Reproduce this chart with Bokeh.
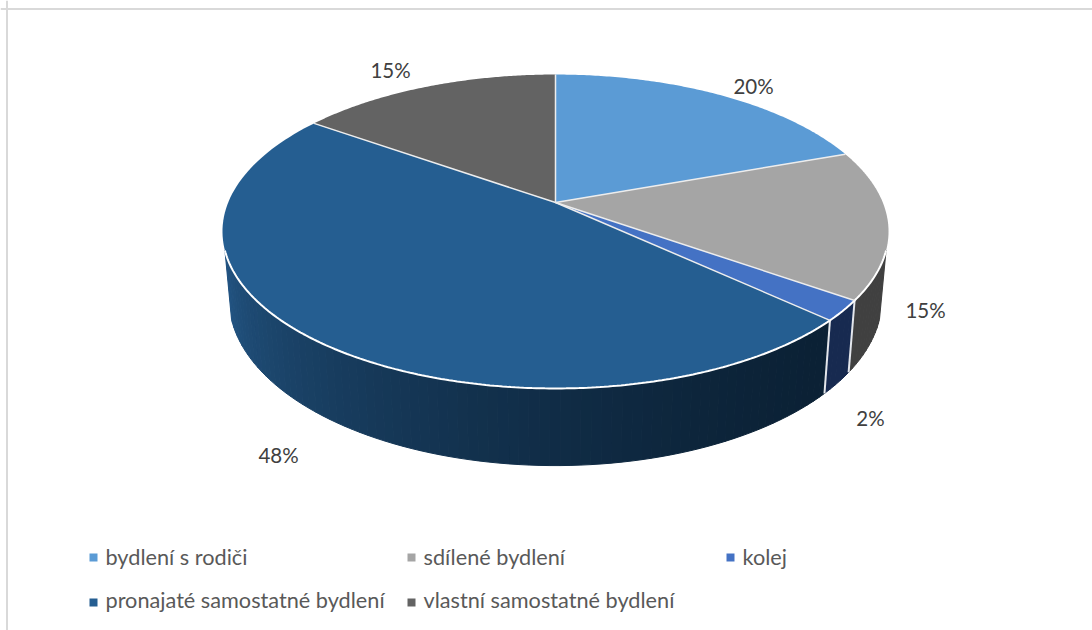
import numpy as np
from bokeh.embed import file_html
from bokeh.resources import INLINE
from bokeh.plotting import figure
from bokeh.models import Range1d, Span
from bokeh.core.properties import value

categories = ["bydlení s rodiči", "sdílené bydlení", "kolej",
              "pronajaté samostatné bydlení", "vlastní samostatné bydlení"]
values = [19.5, 15.3, 2.1, 47.9, 15.2]
labels = ["20%", "15%", "2%", "48%", "15%"]
colors = ["#5B9BD5", "#A5A5A5", "#4472C4", "#255E91", "#636363"]
side_near = {1: "#404040", 2: "#172A50", 3: "#0B2135"}
side_far_rented = "#225482"

label_x = [753, 925, 870, 278, 390]
label_y = [85.5, 309.5, 417.5, 454.5, 69.5]
marker_x = [93, 411, 730, 93, 411]
marker_y = [557, 557, 557, 602, 602]
legend_text_y = [556, 556, 556, 599.5, 599.5]

# perspective projection of the pie
CX, CY = 555, 202
A, B, K = 151.6, 327.3, 0.1847
DROP, SY, SX = 66, 1.06, 0.98
SIDE_FROM, SIDE_TO = 107.4, 252.6


def top(theta):
    t = np.radians(theta)
    d = 1 + K * np.cos(t)
    return B * np.sin(t) / d, -A * np.cos(t) / d


def top_xy(theta):
    x, y = top(theta)
    return CX + x, CY + y


def bottom_xy(theta):
    x, y = top(theta)
    return CX + SX * x, CY + DROP + SY * y


def mix(c1, c2, t):
    a = [int(c1[i:i + 2], 16) for i in (1, 3, 5)]
    b = [int(c2[i:i + 2], 16) for i in (1, 3, 5)]
    return "#%02x%02x%02x" % tuple(int(round(p + (q - p) * t)) for p, q in zip(a, b))


p = figure(width=1092, height=630, output_backend="svg", toolbar_location=None,
           x_range=Range1d(0, 1092), y_range=Range1d(630, 0), min_border=0,
           x_axis_location=None, y_axis_location=None, outline_line_color=None)
p.grid.visible = False
p.add_layout(Span(location=6.5, dimension="height", line_color="#D9D9D9", line_width=2))
p.add_layout(Span(location=8.5, dimension="width", line_color="#D9D9D9", line_width=2))

edges = np.concatenate([[0], np.cumsum(values)]) * 360 / sum(values)

# side wall
for i in range(len(values)):
    lo, hi = max(edges[i], SIDE_FROM), min(edges[i + 1], SIDE_TO)
    if lo >= hi:
        continue
    steps = np.arange(lo, hi + 1.5, 1.5)
    steps[-1] = hi
    xs, ys, cols = [], [], []
    for a0, a1 in zip(steps[:-1], steps[1:]):
        th = np.array([a0, a1])
        tx, ty = top_xy(th)
        bx, by = bottom_xy(th[::-1])
        xs.append(list(tx) + list(bx))
        ys.append(list(ty) + list(by))
        if i == 3:
            cols.append(mix(side_near[3], side_far_rented, ((a0 - lo) / (hi - lo)) ** 1.6))
        else:
            cols.append(side_near[i])
    p.patches(xs, ys, fill_color=cols, line_color=cols, line_width=1)

# white separators on the wall
for e in edges[1:-1]:
    if SIDE_FROM < e < SIDE_TO:
        tx, ty = top_xy(e)
        bx, by = bottom_xy(e)
        p.line([tx, bx], [ty, by], line_color="#E4E7EC", line_width=2)

# top face
for i in range(len(values)):
    th = np.linspace(edges[i], edges[i + 1], 120)
    tx, ty = top_xy(th)
    p.patch([CX] + list(tx), [CY] + list(ty), fill_color=colors[i], line_color=None)

# front rim and radial separators
rx, ry = top_xy(np.linspace(SIDE_FROM, SIDE_TO, 240))
p.line(rx, ry, line_color="white", line_width=2)
for e in edges[:-1]:
    tx, ty = top_xy(e)
    p.line([CX, tx], [CY, ty], line_color="#EDEDED", line_width=1.5)

# data labels
p.text(label_x, label_y, text=labels, text_font=value("Lato"), text_font_size="20.5px",
       text_color="#404040", text_align="center", text_baseline="middle")

# legend
p.scatter(marker_x, marker_y, marker="square", size=8, fill_color=colors, line_color=None)
p.text([x + 12 for x in marker_x], legend_text_y, text=categories, text_font=value("Lato"),
       text_font_size="21.7px", text_color="#595959", text_align="left", text_baseline="middle")

open("out.html", "w").write(file_html(p, INLINE))
